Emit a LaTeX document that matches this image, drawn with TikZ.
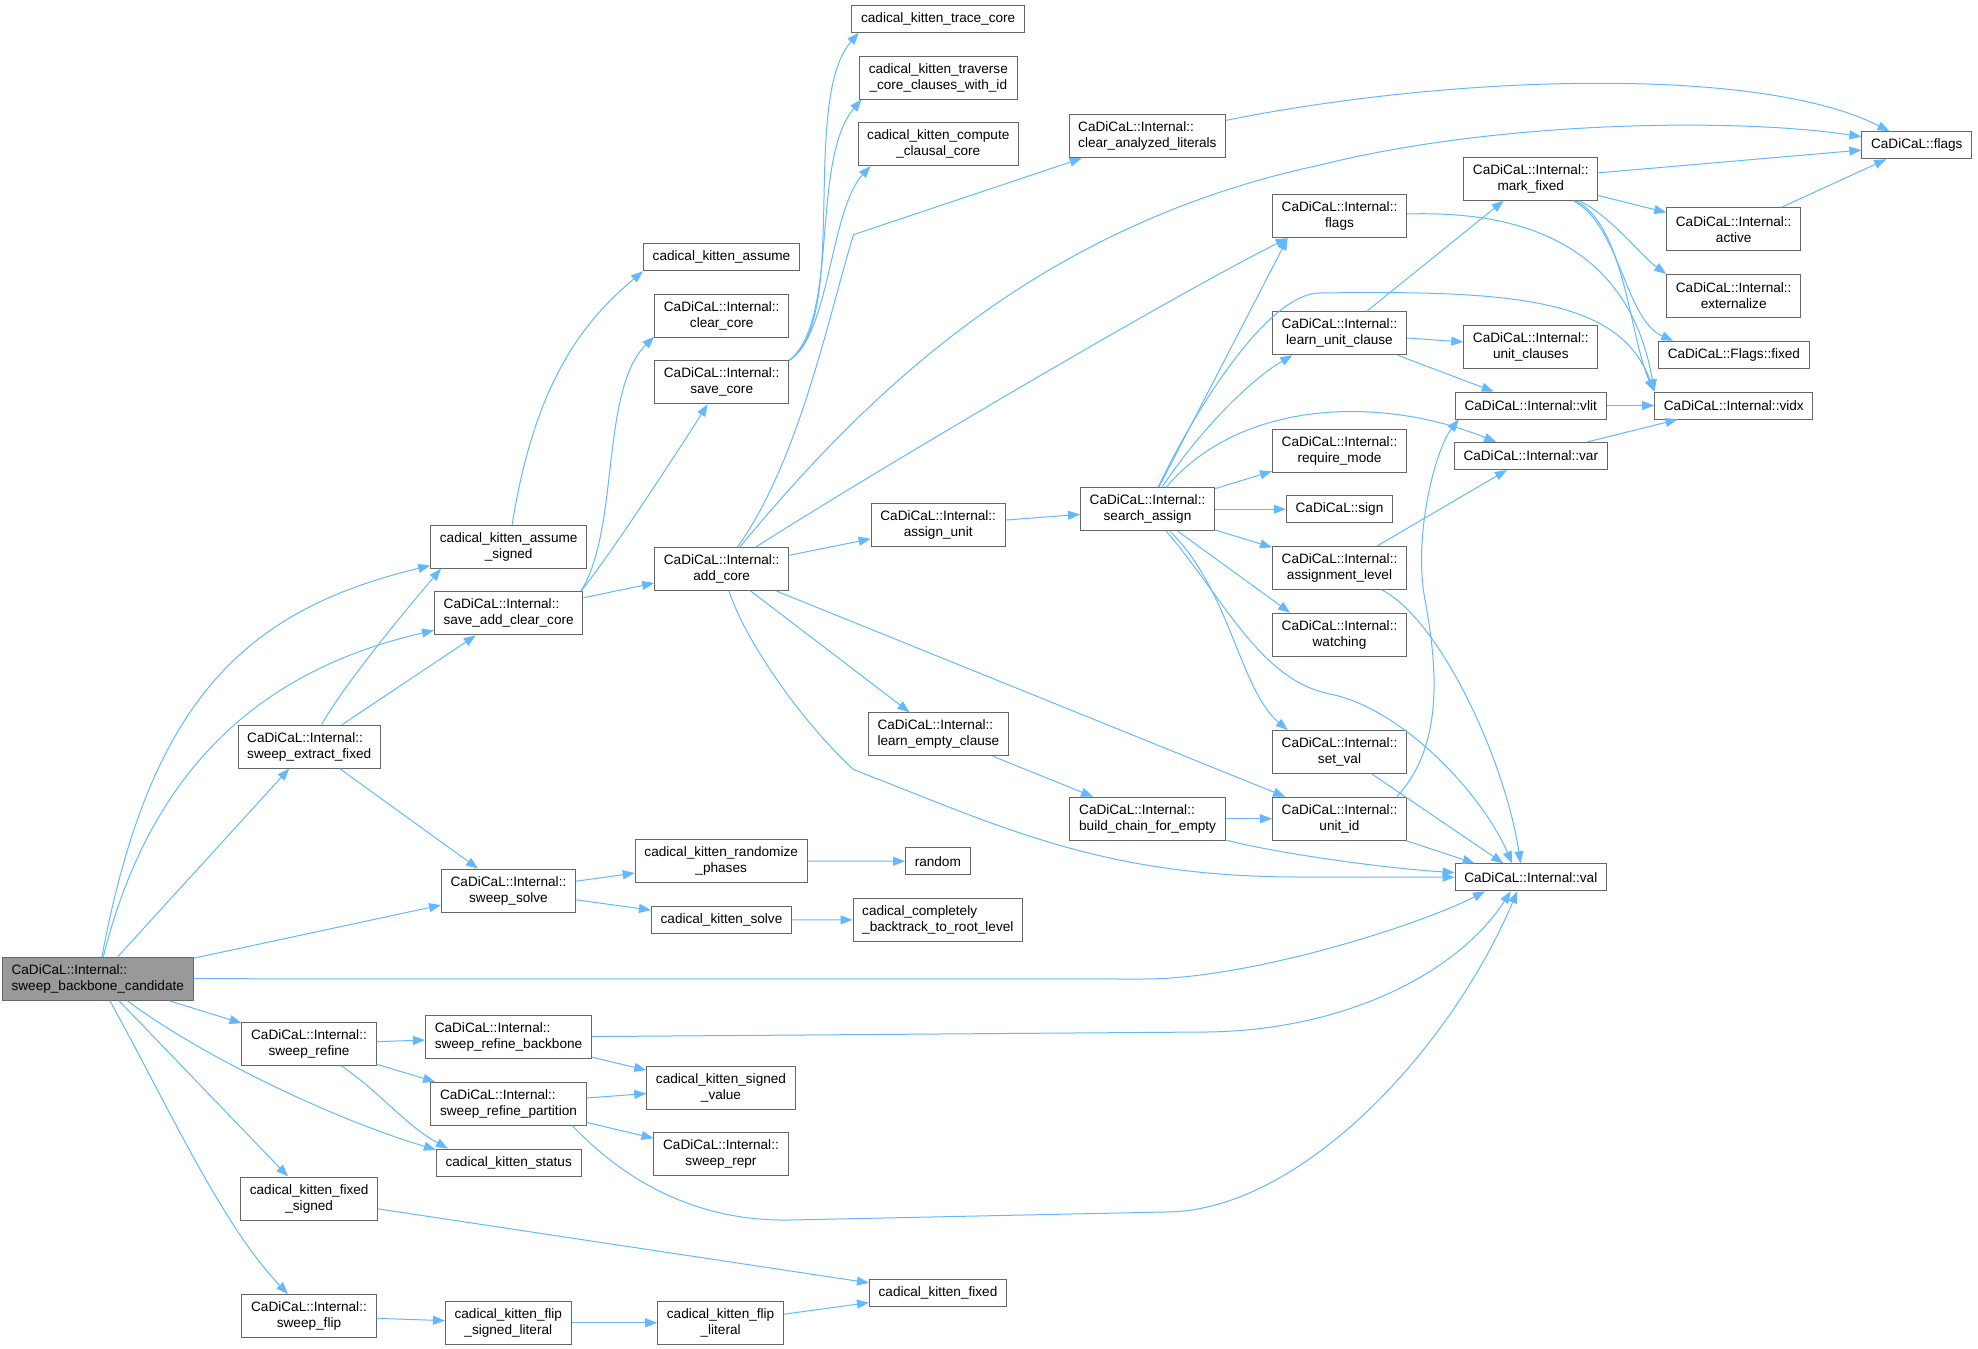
\documentclass[tikz,border=0pt]{standalone}
\usepackage{fontspec}
\setmainfont{Liberation Sans}
\usetikzlibrary{arrows.meta}
\definecolor{edgeblue}{HTML}{63B8FF}
\definecolor{boxline}{HTML}{666666}
\definecolor{rootfill}{HTML}{999999}
\tikzstyle{func} = [rectangle, draw=boxline, line width=0.5pt, fill=white, font=\fontsize{6.8}{8}\selectfont, inner xsep=4.6pt, inner ysep=0pt, minimum height=13.5pt]
\tikzstyle{func2} = [func, minimum height=21.5pt, align=center]
\tikzstyle{func2l} = [func2, align=left]
\tikzstyle{root} = [func2l, fill=rootfill]
\tikzstyle{arrow} = [draw=edgeblue, line width=0.5pt, -{Triangle[length=6pt,width=4.5pt]}]

\begin{document}
\begin{tikzpicture}[x=0.5pt, y=-0.5pt]
\useasboundingbox (0,0) rectangle (1978,1349);

\node (sbc) [root] at (97.8,978.7) {CaDiCaL::Internal::\\sweep\_backbone\_candidate};
\node (sef) [func2l] at (309.2,746.6) {CaDiCaL::Internal::\\sweep\_extract\_fixed};
\node (refine) [func2] at (309,1044) {CaDiCaL::Internal::\\sweep\_refine};
\node (fixedsigned) [func2] at (309.2,1198.5) {cadical\_kitten\_fixed\\\_signed};
\node (flip) [func2] at (309,1316) {CaDiCaL::Internal::\\sweep\_flip};
\node (assumesigned) [func2] at (508.7,546.7) {cadical\_kitten\_assume\\\_signed};
\node (saveaddclear) [func2l] at (508.7,613.4) {CaDiCaL::Internal::\\save\_add\_clear\_core};
\node (solve) [func2] at (508.5,890.6) {CaDiCaL::Internal::\\sweep\_solve};
\node (refinebb) [func2l] at (508.5,1037.2) {CaDiCaL::Internal::\\sweep\_refine\_backbone};
\node (refinepart) [func2l] at (508.5,1103.8) {CaDiCaL::Internal::\\sweep\_refine\_partition};
\node (status) [func] at (508.7,1162.6) {cadical\_kitten\_status};
\node (flipsigned) [func2] at (508.3,1322.8) {cadical\_kitten\_flip\\\_signed\_literal};
\node (kassume) [func] at (721.5,257.4) {cadical\_kitten\_assume};
\node (clearcore) [func2] at (721.7,316) {CaDiCaL::Internal::\\clear\_core};
\node (savecore) [func2] at (721.7,382.3) {CaDiCaL::Internal::\\save\_core};
\node (addcore) [func2] at (721.7,568.9) {CaDiCaL::Internal::\\add\_core};
\node (randomize) [func2] at (721.2,861) {cadical\_kitten\_randomize\\\_phases};
\node (ksolve) [func] at (721.5,919.7) {cadical\_kitten\_solve};
\node (signedvalue) [func2] at (721,1088) {cadical\_kitten\_signed\\\_value};
\node (repr) [func2] at (721,1154.3) {CaDiCaL::Internal::\\sweep\_repr};
\node (flipliteral) [func2] at (720.6,1322.8) {cadical\_kitten\_flip\\\_literal};
\node (tracecore) [func] at (938.2,18.7) {cadical\_kitten\_trace\_core};
\node (traverse) [func2] at (938.3,77.5) {cadical\_kitten\_traverse\\\_core\_clauses\_with\_id};
\node (compute) [func2] at (938.3,144) {cadical\_kitten\_compute\\\_clausal\_core};
\node (assignunit) [func2] at (938.2,525.2) {CaDiCaL::Internal::\\assign\_unit};
\node (learnempty) [func2l] at (938.4,734.3) {CaDiCaL::Internal::\\learn\_empty\_clause};
\node (random) [func] at (937.8,861.3) {random};
\node (backtrack) [func2l] at (937.8,920) {cadical\_completely\\\_backtrack\_to\_root\_level};
\node (kfixed) [func] at (938,1293.2) {cadical\_kitten\_fixed};
\node (clearanalyzed) [func2l] at (1147.4,136.3) {CaDiCaL::Internal::\\clear\_analyzed\_literals};
\node (searchassign) [func2] at (1147.5,509.2) {CaDiCaL::Internal::\\search\_assign};
\node (buildchain) [func2l] at (1147.6,818.7) {CaDiCaL::Internal::\\build\_chain\_for\_empty};
\node (iflags) [func2] at (1339.5,216.2) {CaDiCaL::Internal::\\flags};
\node (learnunit) [func2] at (1339.5,333.3) {CaDiCaL::Internal::\\learn\_unit\_clause};
\node (requiremode) [func2] at (1339.5,450.7) {CaDiCaL::Internal::\\require\_mode};
\node (sign) [func] at (1339.5,509.2) {CaDiCaL::sign};
\node (assignlevel) [func2] at (1339.5,568) {CaDiCaL::Internal::\\assignment\_level};
\node (watching) [func2] at (1339.5,634.7) {CaDiCaL::Internal::\\watching};
\node (setval) [func2] at (1339.5,752) {CaDiCaL::Internal::\\set\_val};
\node (unitid) [func2] at (1339.5,818.7) {CaDiCaL::Internal::\\unit\_id};
\node (markfixed) [func2] at (1530.8,178.7) {CaDiCaL::Internal::\\mark\_fixed};
\node (unitclauses) [func2] at (1530.8,346.7) {CaDiCaL::Internal::\\unit\_clauses};
\node (vlit) [func] at (1530.7,405.5) {CaDiCaL::Internal::vlit};
\node (var) [func] at (1530.8,456) {CaDiCaL::Internal::var};
\node (val) [func] at (1530.8,877.3) {CaDiCaL::Internal::val};
\node (active) [func2] at (1733.7,229.2) {CaDiCaL::Internal::\\active};
\node (externalize) [func2] at (1733.7,295.8) {CaDiCaL::Internal::\\externalize};
\node (flagsfixed) [func] at (1733.9,354.7) {CaDiCaL::Flags::fixed};
\node (vidx) [func] at (1733.8,405.5) {CaDiCaL::Internal::vidx};
\node (cflags) [func] at (1916.8,145.3) {CaDiCaL::flags};

\draw [arrow] (sbc) .. controls (150,700) and (245,610) .. (assumesigned);
\draw [arrow] (sbc) .. controls (150,770) and (260,670) .. (saveaddclear);
\draw [arrow] (sbc) -- (sef);
\draw [arrow] (sbc) -- (solve);
\draw [arrow] (sbc) -- (1144,979) .. controls (1250,979) and (1420,925) .. (val.197);
\draw [arrow] (sbc) -- (refine);
\draw [arrow] (sbc) .. controls (200,1055) and (330,1118) .. (status.170);
\draw [arrow] (sbc) -- (fixedsigned);
\draw [arrow] (sbc) .. controls (170,1110) and (222,1225) .. (flip);

\draw [arrow] (sef) .. controls (345,683) and (410,605) .. (assumesigned.198);
\draw [arrow] (sef) -- (saveaddclear);
\draw [arrow] (sef) -- (solve);
\draw [arrow] (assumesigned) .. controls (535,380) and (585,320) .. (kassume.190);

\draw [arrow] (saveaddclear.17) .. controls (620,530) and (600,390) .. (clearcore.197);
\draw [arrow] (saveaddclear.17) .. controls (610,556) and (685,440) .. (savecore);
\draw [arrow] (saveaddclear) -- (addcore);

\draw [arrow] (savecore.18) .. controls (850,320) and (800,100) .. (tracecore.190);
\draw [arrow] (savecore.18) .. controls (840,320) and (810,160) .. (traverse.196);
\draw [arrow] (savecore.18) .. controls (830,335) and (830,210) .. (compute.198);

\draw [arrow] (addcore) .. controls (800,460) and (830,310) .. (853.6,234.6) -- (clearanalyzed);
\draw [arrow] (addcore) .. controls (870,390) and (1040,225) .. (1320,165) .. controls (1500,120) and (1740,118) .. (cflags);
\draw [arrow] (addcore) .. controls (870,474) and (1170,297) .. (iflags.203);
\draw [arrow] (addcore) -- (assignunit);
\draw [arrow] (addcore) -- (learnempty);
\draw [arrow] (addcore) -- (unitid);
\draw [arrow] (addcore) .. controls (745,640) and (800,720) .. (853.6,769.6) .. controls (1000,826) and (1100,877) .. (1300,877) -- (val);

\draw [arrow] (assignunit) -- (searchassign);
\draw [arrow] (learnempty) -- (buildchain);
\draw [arrow] (randomize) -- (random);
\draw [arrow] (ksolve) -- (backtrack);
\draw [arrow] (buildchain) -- (unitid);
\draw [arrow] (buildchain) .. controls (1270,852) and (1380,868) .. (val);

\draw [arrow] (searchassign) -- (iflags.203);
\draw [arrow] (searchassign) .. controls (1200,400) and (1270,293) .. (1320,293) .. controls (1520,290) and (1620,300) .. (vidx.170);
\draw [arrow] (searchassign) .. controls (1200,430) and (1250,380) .. (learnunit.205);
\draw [arrow] (searchassign) .. controls (1240,400) and (1380,395) .. (var);
\draw [arrow] (searchassign) -- (requiremode);
\draw [arrow] (searchassign) -- (sign);
\draw [arrow] (searchassign) -- (assignlevel);
\draw [arrow] (searchassign) -- (watching.156);
\draw [arrow] (searchassign) .. controls (1230,590) and (1240,690) .. (setval.157);
\draw [arrow] (searchassign) .. controls (1225,600) and (1260,680) .. (1330,694) .. controls (1400,708) and (1480,790) .. (val.143);

\draw [arrow] (learnunit) -- (markfixed);
\draw [arrow] (learnunit) -- (unitclauses);
\draw [arrow] (learnunit) -- (vlit);
\draw [arrow] (iflags) .. controls (1530,210) and (1630,250) .. (vidx.170);
\draw [arrow] (assignlevel) -- (var);
\draw [arrow] (assignlevel) .. controls (1440,620) and (1505,760) .. (val.126);
\draw [arrow] (setval) -- (val.153);
\draw [arrow] (unitid) -- (val.166);
\draw [arrow] (unitid.21) .. controls (1440,750) and (1440,680) .. (1425,600) .. controls (1413,536) and (1435,450) .. (vlit.191);

\draw [arrow] (markfixed) -- (cflags);
\draw [arrow] (markfixed) -- (active);
\draw [arrow] (markfixed) .. controls (1610,215) and (1640,255) .. (externalize.162);
\draw [arrow] (markfixed) .. controls (1620,225) and (1625,320) .. (flagsfixed.167);
\draw [arrow] (markfixed) .. controls (1625,225) and (1630,340) .. (vidx.170);
\draw [arrow] (active) -- (cflags);
\draw [arrow] (clearanalyzed) .. controls (1450,75) and (1760,65) .. (cflags);
\draw [arrow] (vlit) -- (vidx);
\draw [arrow] (var) -- (vidx);

\draw [arrow] (solve) -- (randomize);
\draw [arrow] (solve) -- (ksolve);
\draw [arrow] (refine) -- (refinebb);
\draw [arrow] (refine) -- (refinepart);
\draw [arrow] (refine) .. controls (380,1092) and (405,1125) .. (status.167);
\draw [arrow] (refinebb) -- (1207,1032) .. controls (1350,1030) and (1460,970) .. (val.215);
\draw [arrow] (refinebb) -- (signedvalue);
\draw [arrow] (refinepart) -- (signedvalue);
\draw [arrow] (refinepart) -- (repr);
\draw [arrow] (refinepart.341) .. controls (610,1165) and (680,1222) .. (790,1220) -- (1165,1212) .. controls (1300,1212) and (1450,1050) .. (val.226);
\draw [arrow] (fixedsigned) -- (kfixed);
\draw [arrow] (flip) -- (flipsigned);
\draw [arrow] (flipsigned) -- (flipliteral);
\draw [arrow] (flipliteral) -- (kfixed);
\end{tikzpicture}
\end{document}
